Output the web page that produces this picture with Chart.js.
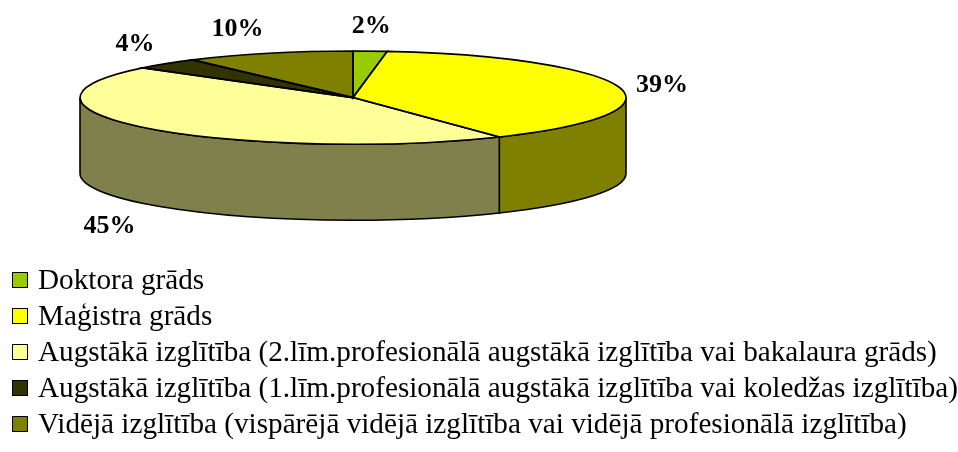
<!DOCTYPE html>
<html>
<head>
<meta charset="utf-8">
<script src="https://cdn.jsdelivr.net/npm/chart.js@4.4.1/dist/chart.umd.min.js"></script>
<style>
  body { margin: 0; background: #fff; }
  #wrap { position: relative; width: 958px; height: 452px; overflow: hidden; }
  #chart { position: absolute; left: 0; top: 0; }
  #legend {
    position: absolute; left: 0; top: 261px; margin: 0; padding: 0; list-style: none;
    font-family: 'Liberation Serif', 'Times New Roman', serif; font-size: 29.2px;
    line-height: 36px; white-space: nowrap; color: #000;
  }
  #legend .box {
    display: inline-block; width: 14px; height: 14px; border: 1px solid #000;
    margin: 0 10px 0 12px; vertical-align: 1px;
  }
</style>
</head>
<body>
<div id="wrap">
  <canvas id="chart" width="958" height="452"></canvas>
  <ul id="legend"></ul>
</div>
<script>
const categories = [
  'Doktora grāds',
  'Maģistra grāds',
  'Augstākā izglītība (2.līm.profesionālā augstākā izglītība vai bakalaura grāds)',
  'Augstākā izglītība (1.līm.profesionālā augstākā izglītība vai koledžas izglītība)',
  'Vidējā izglītība (vispārējā vidējā izglītība vai vidējā profesionālā izglītība)'
];
const shares = [2, 39, 45, 4, 10];
const topColors = ['#99CC00', '#FFFF00', '#FFFF99', '#333300', '#808000'];
const sideColors = ['#4D6600', '#808000', '#80804D', '#1A1A00', '#404000'];

// the flat pie gets projected onto a tilted disc: ellipse centre/radii + wall height
const CX = 353, CY = 97.6, RX = 273, RY = 46.6, DEPTH = 76;

const pie3d = {
  id: 'pie3d',
  beforeDatasetsDraw(chart) {
    const ctx = chart.ctx;
    const arcs = chart.getDatasetMeta(0).data;
    // side walls, only the front half (0..PI) can be seen
    ctx.lineWidth = 1.6;
    ctx.strokeStyle = '#000';
    arcs.forEach((arc, i) => {
      const a0 = Math.max(arc.startAngle, 0);
      const a1 = Math.min(arc.endAngle, Math.PI);
      if (a1 <= a0) return;
      ctx.beginPath();
      ctx.ellipse(CX, CY, RX, RY, 0, a0, a1);
      ctx.ellipse(CX, CY + DEPTH, RX, RY, 0, a1, a0, true);
      ctx.closePath();
      ctx.fillStyle = sideColors[i];
      ctx.fill();
      ctx.stroke();
    });
    // squash the library's own arcs into the top face
    const { x, y, outerRadius } = arcs[0];
    ctx.save();
    ctx.translate(CX, CY);
    ctx.scale(RX / outerRadius, RY / outerRadius);
    ctx.translate(-x, -y);
  },
  afterDatasetsDraw(chart) {
    const ctx = chart.ctx;
    ctx.restore();
    const arcs = chart.getDatasetMeta(0).data;
    const values = chart.data.datasets[0].data;
    const total = values.reduce((a, b) => a + b, 0);

    ctx.lineWidth = 1.6;
    ctx.strokeStyle = '#000';
    arcs.forEach(arc => {
      ctx.beginPath();
      ctx.moveTo(CX, CY);
      ctx.ellipse(CX, CY, RX, RY, 0, arc.startAngle, arc.endAngle);
      ctx.closePath();
      ctx.stroke();
    });

    // percent labels just outside the disc
    ctx.font = 'bold 26px "Liberation Serif", "Times New Roman", serif';
    ctx.fillStyle = '#000';
    ctx.textBaseline = 'alphabetic';
    arcs.forEach((arc, i) => {
      const m = (arc.startAngle + arc.endAngle) / 2;
      const c = Math.cos(m), s = Math.sin(m);
      const lx = CX + (RX + 17) * c;
      let ly = CY + (RY + 18) * s;
      ctx.textAlign = c > 0.3 ? 'left' : c < -0.3 ? 'right' : 'center';
      if (s > 0.3) ly += DEPTH + 17;
      else if (s > -0.3) ly += 8.5;
      ctx.fillText(Math.round(values[i] / total * 100) + '%', lx, ly);
    });
  }
};

const chart = new Chart(document.getElementById('chart'), {
  type: 'pie',
  data: {
    labels: categories,
    datasets: [{
      data: shares,
      backgroundColor: topColors,
      borderWidth: 0,
      clip: false
    }]
  },
  options: {
    responsive: false,
    animation: false,
    events: [],
    plugins: {
      legend: { display: false },
      tooltip: { enabled: false }
    }
  },
  plugins: [pie3d]
});

// legend below, one entry per line
const legendEl = document.getElementById('legend');
categories.forEach((label, i) => {
  const li = document.createElement('li');
  const box = document.createElement('span');
  box.className = 'box';
  box.style.background = topColors[i];
  li.appendChild(box);
  li.appendChild(document.createTextNode(label));
  legendEl.appendChild(li);
});
</script>
</body>
</html>
